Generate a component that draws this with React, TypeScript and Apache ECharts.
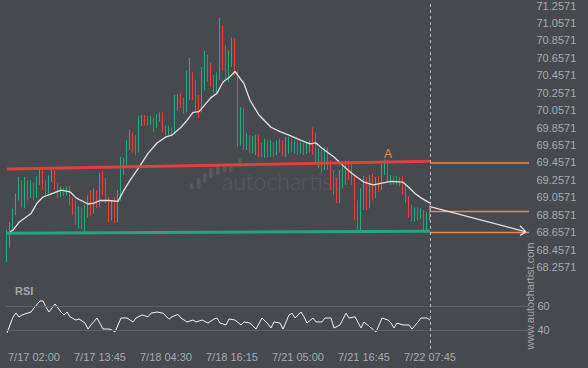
import React, { useEffect, useRef } from "react";
import * as echarts from "echarts";

// ---------- data ----------
const timeLabels = ["7/17 02:00", "7/17 13:45", "7/18 04:30", "7/18 16:15", "7/21 05:00", "7/21 16:45", "7/22 07:45"];
const timeLabelIndexes = [9, 31, 53, 75, 97, 119, 141];
const categoryCount = 175; // 142 bars + room for the projection
const lastBarIndex = 141;
const projectionEndIndex = 174;

const priceTicks = [68.2571, 68.4571, 68.6571, 68.8571, 69.0571, 69.2571, 69.4571, 69.6571, 69.8571, 70.0571, 70.2571, 70.4571, 70.6571, 70.8571, 71.0571, 71.2571];
const rsiTicks = [40, 60];

// [open, close, low, high]
const candles: number[][] = [
  [68.36, 68.65, 68.31, 68.68], [68.57, 68.73, 68.48, 68.77], [68.73, 68.89, 68.70, 68.93], [68.89, 69.05, 68.85, 69.10],
  [69.05, 69.23, 69.02, 69.29], [69.23, 69.02, 68.94, 69.25], [69.02, 69.25, 68.93, 69.29], [69.23, 69.08, 69.02, 69.25],
  [69.08, 69.20, 69.05, 69.25], [69.20, 69.07, 69.02, 69.22], [69.07, 69.25, 69.05, 69.30], [69.25, 69.34, 69.20, 69.39],
  [69.34, 69.20, 69.14, 69.38], [69.20, 69.14, 69.08, 69.25], [69.14, 69.28, 69.10, 69.31], [69.28, 69.34, 69.23, 69.38],
  [69.34, 69.18, 69.14, 69.37], [69.18, 69.08, 69.05, 69.22], [69.08, 69.14, 69.06, 69.18], [69.14, 69.10, 69.07, 69.17],
  [69.10, 69.16, 69.08, 69.18], [69.16, 69.02, 68.97, 69.18], [69.02, 68.89, 68.85, 69.05], [68.97, 68.77, 68.74, 69.02],
  [68.74, 68.91, 68.70, 68.95], [68.91, 68.73, 68.69, 68.94], [68.73, 68.85, 68.66, 68.97], [68.85, 69.02, 68.82, 69.08],
  [69.02, 68.91, 68.85, 69.14], [68.91, 69.08, 68.87, 69.16], [69.08, 68.97, 68.93, 69.14], [68.97, 69.25, 68.94, 69.34],
  [69.25, 69.14, 69.08, 69.36], [69.20, 69.02, 68.99, 69.28], [69.02, 68.85, 68.77, 69.06], [68.85, 68.97, 68.79, 69.02],
  [68.97, 68.82, 68.76, 69.06], [68.82, 69.08, 68.77, 69.14], [69.08, 69.34, 69.02, 69.52], [69.34, 69.46, 69.31, 69.51],
  [69.46, 69.65, 69.42, 69.71], [69.65, 69.77, 69.60, 69.83], [69.77, 69.62, 69.57, 69.80], [69.71, 69.60, 69.54, 69.77],
  [69.60, 69.94, 69.57, 69.99], [69.92, 69.96, 69.87, 70.00], [69.96, 69.92, 69.88, 70.00], [69.94, 69.92, 69.88, 69.99],
  [69.92, 69.96, 69.89, 69.99], [69.96, 69.85, 69.81, 69.97], [69.88, 69.97, 69.85, 70.01], [69.94, 70.00, 69.92, 70.03],
  [70.00, 69.83, 69.80, 70.03], [69.85, 69.80, 69.77, 69.88], [69.80, 69.85, 69.77, 69.88], [69.85, 69.79, 69.75, 69.86],
  [69.80, 70.11, 69.78, 70.23], [70.11, 70.20, 70.05, 70.24], [70.20, 70.11, 70.08, 70.25], [70.14, 70.05, 70.02, 70.20],
  [70.05, 70.40, 70.03, 70.51], [70.34, 70.51, 70.17, 70.66], [70.46, 70.23, 70.17, 70.49], [70.28, 70.11, 70.05, 70.40],
  [70.17, 70.03, 69.97, 70.23], [70.05, 70.34, 70.03, 70.55], [70.34, 70.57, 70.28, 70.74], [70.60, 70.42, 70.38, 70.69],
  [70.49, 70.38, 70.32, 70.60], [70.40, 70.31, 70.25, 70.46], [70.31, 70.46, 70.25, 70.49], [70.46, 70.80, 70.40, 71.12],
  [70.80, 70.57, 70.51, 71.03], [70.60, 70.46, 70.40, 70.80], [70.46, 70.63, 70.38, 70.74], [70.60, 70.80, 70.55, 70.89],
  [70.80, 70.49, 70.46, 70.88], [70.49, 69.71, 69.63, 70.51], [69.71, 70.05, 69.65, 70.09], [70.05, 69.71, 69.60, 70.08],
  [69.71, 69.75, 69.60, 69.79], [69.75, 69.62, 69.57, 69.77], [69.62, 69.71, 69.56, 69.76], [69.71, 69.75, 69.54, 69.77],
  [69.75, 69.60, 69.52, 69.77], [69.62, 69.54, 69.52, 69.68], [69.54, 69.68, 69.51, 69.73], [69.68, 69.60, 69.51, 69.71],
  [69.60, 69.65, 69.52, 69.71], [69.65, 69.57, 69.52, 69.69], [69.60, 69.69, 69.54, 69.71], [69.69, 69.62, 69.57, 69.73],
  [69.64, 69.56, 69.53, 69.71], [69.56, 69.71, 69.52, 69.75], [69.69, 69.71, 69.56, 69.75], [69.71, 69.62, 69.57, 69.73],
  [69.62, 69.68, 69.56, 69.71], [69.68, 69.60, 69.54, 69.70], [69.60, 69.65, 69.56, 69.69], [69.65, 69.60, 69.54, 69.68],
  [69.60, 69.65, 69.56, 69.68], [69.62, 69.68, 69.57, 69.71], [69.71, 69.60, 69.54, 69.86], [69.60, 69.51, 69.46, 69.80],
  [69.46, 69.60, 69.39, 69.62], [69.57, 69.39, 69.34, 69.60], [69.42, 69.60, 69.37, 69.63], [69.60, 69.42, 69.37, 69.63],
  [69.42, 69.20, 69.14, 69.48], [69.25, 69.14, 69.08, 69.37], [69.16, 69.02, 68.99, 69.28], [69.02, 69.25, 68.99, 69.37],
  [69.23, 69.39, 69.16, 69.45], [69.37, 69.42, 69.20, 69.48], [69.42, 69.31, 69.25, 69.48], [69.39, 69.25, 69.20, 69.46],
  [69.25, 68.85, 68.79, 69.31], [68.91, 68.74, 68.68, 69.02], [68.74, 69.08, 68.68, 69.16], [69.02, 69.25, 68.91, 69.30],
  [69.25, 68.97, 68.91, 69.29], [68.97, 69.20, 68.93, 69.31], [69.20, 69.08, 69.02, 69.33], [69.08, 69.25, 69.05, 69.29],
  [69.25, 69.16, 69.12, 69.30], [69.16, 69.39, 69.14, 69.44], [69.37, 69.46, 69.31, 69.49], [69.46, 69.25, 69.22, 69.49],
  [69.24, 69.28, 69.20, 69.31], [69.28, 69.23, 69.20, 69.30], [69.23, 69.26, 69.20, 69.30], [69.26, 69.22, 69.18, 69.29],
  [69.25, 69.14, 69.09, 69.30], [69.14, 69.02, 68.99, 69.20], [69.02, 68.89, 68.82, 69.07], [68.91, 68.82, 68.78, 68.97],
  [68.82, 68.91, 68.78, 68.94], [68.91, 68.83, 68.79, 68.94], [68.83, 68.89, 68.81, 68.93], [68.89, 68.70, 68.68, 68.91],
  [68.70, 68.85, 68.68, 68.89], [68.85, 68.90, 68.79, 68.97],
];

// [bar index, value]
const movingAverage: number[][] = [
  [1, 68.66], [2, 68.68], [4, 68.77], [8, 68.87], [10, 68.99], [12, 69.06], [15, 69.10], [18, 69.14], [21, 69.12],
  [23, 69.05], [27, 68.98], [29, 68.99], [31, 69.02], [34, 69.02], [37, 69.01], [39, 69.14], [41, 69.25], [44, 69.40],
  [47, 69.56], [50, 69.68], [53, 69.75], [55, 69.77], [58, 69.86], [60, 69.94], [62, 70.03], [64, 70.04], [68, 70.20],
  [70, 70.25], [72, 70.38], [74, 70.43], [76, 70.50], [79, 70.36], [81, 70.17], [84, 70.00], [88, 69.86], [91, 69.81],
  [94, 69.77], [98, 69.71], [101, 69.67], [103, 69.68], [105, 69.62], [109, 69.52], [112, 69.42], [115, 69.33],
  [119, 69.23], [122, 69.20], [125, 69.22], [128, 69.24], [132, 69.23], [134, 69.17], [136, 69.10], [138, 69.05], [141, 68.99],
];

const rsi: number[][] = [
  [0, 37.5], [2, 50.8], [3, 54.2], [4, 50.8], [5, 52.5], [7, 54.2], [8, 55], [9, 58.3], [11, 64.2], [12, 64.2], [13, 59],
  [14, 55], [16, 61.7], [18, 55], [19, 52.5], [20, 55], [21, 51], [23, 48.3], [24, 49.2], [26, 45.8], [27, 40.8], [28, 44.2],
  [30, 50], [32, 40.8], [34, 40.8], [35, 40], [36, 38.3], [38, 50], [40, 50], [42, 46.7], [43, 50], [45, 52.5], [47, 51],
  [48, 54], [50, 55], [52, 54], [54, 49], [55, 51], [57, 53], [58, 50], [60, 46.7], [62, 48.3], [63, 46.7], [65, 48.3],
  [67, 45.8], [69, 49.2], [70, 50], [71, 45.8], [73, 44.2], [74, 49.2], [76, 48.3], [78, 44.2], [79, 46.7], [81, 45.8],
  [83, 40.8], [85, 50], [87, 45], [88, 41.7], [89, 46.7], [91, 45.8], [92, 40.8], [94, 52.5], [95, 54], [96, 50], [98, 55],
  [99, 51], [100, 45.8], [102, 50], [103, 46.7], [105, 46.7], [106, 50], [108, 50], [109, 41.7], [111, 44.2], [113, 54],
  [114, 50], [116, 51], [118, 41.7], [119, 46.7], [121, 42.5], [123, 38.3], [125, 50], [127, 48.3], [128, 45.8], [129, 41.7],
  [130, 45.8], [132, 44.2], [134, 44.2], [135, 40.8], [137, 46.7], [138, 50], [140, 50], [141, 48.3],
];

const resistanceLine = [[0, 69.38], [141, 69.47]];
const supportLine = [[0, 68.645], [141, 68.667]];
const levelA = 69.4571;
const lastPrice = 68.9;
const supportLevel = 68.6571;
const projectionLine = [[141, 68.95], [173, 68.66]];
const arrowArms = [[171, 68.73], [171, 68.62]];
const pointA = [127, 69.49];

// ---------- styles ----------
const BG = "#46494e";
const GREEN = "#20b07f";
const RED = "#f23d3d";
const ORANGE = "#f0864c";
const WHITE = "#e4e4e4";
const LABEL = "#a9abaf";

export default function App() {
  const ref = useRef<HTMLDivElement>(null);

  useEffect(() => {
    if (!ref.current) return;
    const chart = echarts.init(ref.current, undefined, { renderer: "svg" });
    const categories = Array.from({ length: categoryCount }, (_, i) => String(i));
    const labelMap = new Map<number, string>();
    timeLabelIndexes.forEach((idx, k) => labelMap.set(idx, timeLabels[k]));

    const seg = (a: number[], b: number[], color: string, width: number, opacity = 1) => {
      const ls = { color, width, type: "solid", opacity };
      return [
        { coord: a, lineStyle: ls },
        { coord: b, lineStyle: ls },
      ];
    };

    const option: any = {
      animation: false,
      backgroundColor: BG,
      textStyle: { fontFamily: "Liberation Sans, Arial, sans-serif" },
      grid: [
        { left: 5.5, top: 5, width: 525, height: 262 },
        { left: 5.5, top: 282, width: 525, height: 60 },
      ],
      xAxis: [
        {
          type: "category", gridIndex: 0, data: categories, boundaryGap: true,
          axisLine: { show: false }, axisTick: { show: false }, axisLabel: { show: false }, splitLine: { show: false },
        },
        {
          type: "category", gridIndex: 1, data: categories, boundaryGap: true,
          axisLine: { show: false }, axisTick: { show: false }, splitLine: { show: false },
          axisLabel: {
            show: true, color: LABEL, fontSize: 11, margin: 9,
            interval: (idx: number) => labelMap.has(idx),
            formatter: (_v: string, idx: number) => labelMap.get(idx) ?? "",
          },
        },
      ],
      yAxis: [
        {
          type: "value", gridIndex: 0, position: "right", min: priceTicks[0], max: priceTicks[priceTicks.length - 1],
          axisLine: { show: false }, axisTick: { show: false }, splitLine: { show: false },
          axisLabel: { customValues: priceTicks, color: LABEL, fontSize: 11, margin: 6, formatter: (v: number) => v.toFixed(4) },
        },
        {
          type: "value", gridIndex: 1, position: "right", min: 30, max: 80,
          axisLine: { show: false }, axisTick: { show: false }, splitLine: { show: false },
          axisLabel: { customValues: rsiTicks, color: LABEL, fontSize: 11, margin: 7 },
        },
      ],
      series: [
        {
          type: "candlestick", xAxisIndex: 0, yAxisIndex: 0, data: candles, barWidth: 1, z: 3,
          itemStyle: { color: GREEN, color0: RED, borderColor: GREEN, borderColor0: RED, borderWidth: 1 },
          markLine: {
            silent: true, symbol: ["none", "none"], label: { show: false }, animation: false,
            data: [
              seg(resistanceLine[0], resistanceLine[1], RED, 3, 0.9),
              seg(supportLine[0], supportLine[1], GREEN, 3, 0.9),
              seg([lastBarIndex, levelA], [projectionEndIndex, levelA], ORANGE, 1.5),
              seg([lastBarIndex, lastPrice], [projectionEndIndex, lastPrice], ORANGE, 1.3),
              seg([lastBarIndex, supportLevel], [projectionEndIndex, supportLevel], ORANGE, 1.3),
            ],
          },
          markPoint: {
            silent: true, symbol: "circle", symbolSize: 0, animation: false,
            label: { show: true, formatter: "A", color: ORANGE, fontSize: 12, offset: [0, -6] },
            data: [{ coord: pointA }],
          },
        },
        {
          type: "line", xAxisIndex: 0, yAxisIndex: 0, data: movingAverage, showSymbol: false, symbol: "none", z: 4,
          lineStyle: { color: "#e2e2e2", width: 1.3 },
          markLine: {
            silent: true, symbol: ["none", "none"], label: { show: false }, animation: false,
            lineStyle: { color: WHITE, width: 1.2, type: "solid" },
            data: [
              [{ coord: projectionLine[0] }, { coord: projectionLine[1] }],
              [{ coord: arrowArms[0] }, { coord: projectionLine[1] }],
              [{ coord: arrowArms[1] }, { coord: projectionLine[1] }],
            ],
          },
        },
        {
          type: "line", xAxisIndex: 1, yAxisIndex: 1, data: rsi, showSymbol: false, symbol: "none", z: 4,
          lineStyle: { color: "#f2f2f2", width: 1 },
          markLine: {
            silent: true, symbol: ["none", "none"], label: { show: false }, animation: false,
            lineStyle: { color: "#5d615e", width: 1, type: "solid" },
            data: rsiTicks.map((v) => ({ yAxis: v })),
          },
        },
      ],
    };
    chart.setOption(option);

    const xLast = chart.convertToPixel({ xAxisIndex: 0 }, lastBarIndex) as number;
    const wmBars = [
      [190, 183, 6], [197, 178, 11], [203, 173, 10], [209, 168, 10], [216, 165, 10], [223, 163, 9], [229, 165, 7], [238, 158, 9],
    ];
    chart.setOption({
      graphic: {
        elements: [
          ...wmBars.map(([x, y, h]) => ({
            type: "rect", z: 0, silent: true,
            shape: { x, y, width: 3.5, height: h, r: 1.5 },
            style: { fill: "#55585d" },
          })),
          {
            type: "text", z: 0, silent: true, x: 222, y: 192,
            style: { text: "autochartist", fill: "#55585d", font: "300 23px Lato, sans-serif", textVerticalAlign: "bottom" },
          },
          {
            type: "text", silent: true, x: 15, y: 285,
            style: { text: "RSI", fill: "#a5a7ab", font: "bold 11px 'Liberation Sans', Arial, sans-serif" },
          },
          {
            type: "text", silent: true, x: 530, y: 296, rotation: Math.PI / 2,
            style: { text: "www.autochartist.com", fill: "#a5a7ab", font: "11px 'Liberation Sans', Arial, sans-serif", align: "center", verticalAlign: "middle" },
          },
          {
            type: "line", silent: true, z: 10,
            shape: { x1: Math.round(xLast) + 0.5, y1: 4, x2: Math.round(xLast) + 0.5, y2: 352 },
            style: { stroke: "#b9bbbe", lineWidth: 1, lineDash: [3, 3] },
          },
        ],
      },
    });

    return () => chart.dispose();
  }, []);

  return (
    <div
      ref={ref}
      style={{ position: "fixed", left: 0, top: 0, width: 588, height: 368, background: BG }}
    />
  );
}
